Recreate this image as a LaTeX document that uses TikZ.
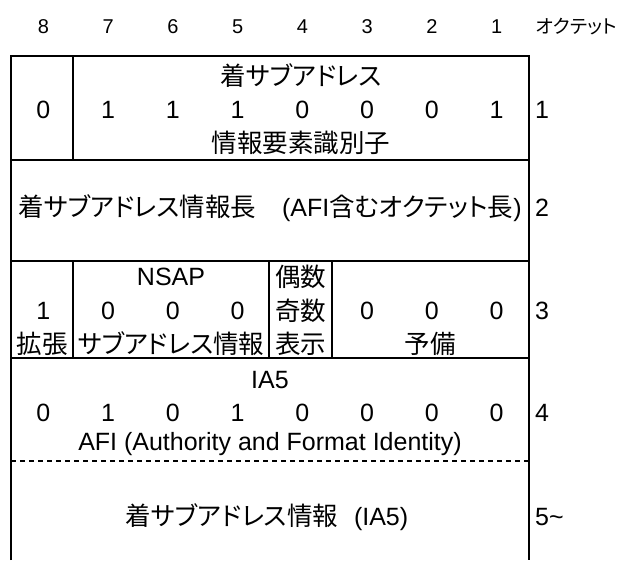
\documentclass[tikz,border=0pt]{standalone}
\usepackage{fontspec}
\setmainfont{Liberation Sans}
\newfontfamily\jpfont[RawFeature=+palt]{Noto Sans CJK JP}
\newcommand{\jpt}[1]{{\jpfont\fontsize{25.5}{30}\selectfont #1}}
\begin{document}
\begin{tikzpicture}[x=1pt,y=-1pt,
  frame/.style={line width=2pt},
  dotline/.style={line width=2pt, dash pattern=on 5pt off 4pt},
  txt/.style={font=\fontsize{25}{30}\selectfont, inner sep=0pt},
  hdr/.style={font=\fontsize{20}{24}\selectfont, inner sep=0pt},
  oct/.style={font=\fontsize{25}{30}\selectfont, inner sep=0pt, anchor=west}]
\useasboundingbox (0,0) rectangle (621,560);
% frame
\draw[frame] (11,560) -- (11,56) -- (529,56) -- (529,560);
\draw[frame] (11,160) -- (529,160);
\draw[frame] (11,261) -- (529,261);
\draw[frame] (11,358) -- (529,358);
\draw[dotline] (11,461) -- (529,461);
\draw[frame] (73,56) -- (73,160);
\draw[frame] (73,261) -- (73,358);
\draw[frame] (269,261) -- (269,358);
\draw[frame] (332,261) -- (332,358);
% header
\foreach \b [count=\i from 0] in {8,7,6,5,4,3,2,1}
  \node[hdr] (h\b) at (43.4+64.75*\i,27) {\b};
\node[hdr, anchor=west] (hoct) at (536,27) {\jpfont\fontsize{19}{23}\selectfont オクテット};
% row 1
\node[txt] (r1a) at (301,76) {\jpt{着サブアドレス}};
\foreach \v [count=\i from 0] in {0,1,1,1,0,0,0,1}
  \node[txt] (r1b\i) at (43.4+64.75*\i,110) {\v};
\node[txt] (r1c) at (301,143) {\jpt{情報要素識別子}};
\node[oct] (o1) at (535,110) {1};
% row 2
\node[txt] (r2) at (270,208) {\jpt{着サブアドレス情報長}\hspace{26pt}(AFI\jpt{含むオクテット長})};
\node[oct] (o2) at (535,208) {2};
% row 3
\node[txt] (r3n) at (171,277) {NSAP};
\foreach \v [count=\i from 0] in {1,0,0,0}
  \node[txt] (r3a\i) at (43.4+64.75*\i,311) {\v};
\foreach \v [count=\i from 5] in {0,0,0}
  \node[txt] (r3b\i) at (43.4+64.75*\i,311) {\v};
\node[txt] (r3ext) at (42,344) {\jpt{拡張}};
\node[txt] (r3sub) at (171,344) {\jpt{サブアドレス情報}};
\node[txt] (r3e1) at (300.5,277) {\jpt{偶数}};
\node[txt] (r3e2) at (300.5,311) {\jpt{奇数}};
\node[txt] (r3e3) at (300.5,344) {\jpt{表示}};
\node[txt] (r3r) at (430,344) {\jpt{予備}};
\node[oct] (o3) at (535,311) {3};
% row 4
\node[txt] (r4a) at (270,380) {IA5};
\foreach \v [count=\i from 0] in {0,1,0,1,0,0,0,0}
  \node[txt] (r4b\i) at (43.4+64.75*\i,413) {\v};
\node[txt] (r4c) at (270,444) {AFI (Authority and Format Identity)};
\node[oct] (o4) at (535,413) {4};
% row 5
\node[txt] (r5) at (267,517) {\jpt{着サブアドレス情報}\hspace{16pt}(IA5)};
\node[oct] (o5) at (535,517) {5\textasciitilde};
\end{tikzpicture}
\end{document}
